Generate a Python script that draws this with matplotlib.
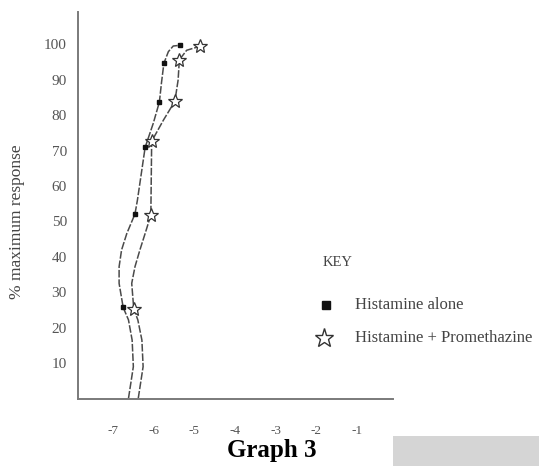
import matplotlib
matplotlib.use('Agg')
import matplotlib.pyplot as plt
import matplotlib.patches as patches

# values (log concentration vs % maximum response)
alone_x = [-6.75, -6.46, -6.21, -5.86, -5.75, -5.35]
alone_y = [25.7, 52.1, 70.9, 83.7, 94.6, 99.7]
prom_x = [-6.49, -6.07, -6.05, -5.48, -5.37, -4.87]
prom_y = [25.3, 51.8, 72.6, 83.9, 95.6, 99.4]

# hand drawn curves
alone_line_x = [-6.62, -6.50, -6.53, -6.62, -6.75, -6.85, -6.85, -6.79, -6.66, -6.46,
                -6.40, -6.21, -6.01, -5.86, -5.81, -5.75, -5.64, -5.52, -5.35]
alone_line_y = [0, 9.0, 16.5, 22.2, 25.7, 32.5, 37.2, 41.9, 46.6, 52.1,
                56.0, 70.9, 77.7, 83.7, 89.0, 94.6, 97.9, 99.5, 99.7]
prom_line_x = [-6.38, -6.26, -6.29, -6.39, -6.49, -6.54, -6.46, -6.34, -6.21, -6.07,
               -6.05, -5.76, -5.48, -5.40, -5.37, -5.19, -4.87]
prom_line_y = [0, 9.0, 16.5, 22.2, 25.3, 32.5, 37.2, 41.9, 46.6, 51.8,
               72.6, 78.6, 83.9, 89.9, 95.6, 98.3, 99.4]

x_ticks = [-7, -6, -5, -4, -3, -2, -1]
y_ticks = [10, 20, 30, 40, 50, 60, 70, 80, 90, 100]

plt.rcParams['font.family'] = ['Liberation Serif', 'DejaVu Serif']
plt.rcParams['axes.unicode_minus'] = False

W, H = 539, 466
fig = plt.figure(figsize=(W / 100, H / 100), dpi=100)
ax = fig.add_axes([78 / W, 1 - 398.5 / H, 315 / W, 386.5 / H])

line_color = '#4a4a4a'
ax.plot(alone_line_x, alone_line_y, color=line_color, lw=1.1, ls=(0, (5, 1.2)))
ax.plot(prom_line_x, prom_line_y, color=line_color, lw=1.1, ls=(0, (5, 1.2)))
ax.plot(alone_x, alone_y, ls='none', marker='s', ms=3.2, color='#111111')
ax.plot(prom_x, prom_y, ls='none', marker='*', ms=10, mfc='white',
        mec='#333333', mew=0.9)

ax.set_xlim(-7.86, -0.12)
ax.set_ylim(0, 109.1)
for side in ['top', 'right']:
    ax.spines[side].set_visible(False)
for side in ['left', 'bottom']:
    ax.spines[side].set_color('#7a7a7a')
    ax.spines[side].set_linewidth(1.4)

ax.set_xticks(x_ticks)
ax.set_xticklabels([str(v) for v in x_ticks])
ax.set_yticks(y_ticks)
ax.tick_params(axis='x', length=0, pad=19, labelsize=9.5, labelcolor='#555555')
ax.tick_params(axis='y', length=0, pad=8, labelsize=11, labelcolor='#555555')

ax.set_ylabel('% maximum response', fontsize=12.5, color='#444444')
ax.yaxis.set_label_coords(-0.168, 0.457)

# key
fig.text(323 / W, 1 - 262 / H, 'KEY', fontsize=10.5, color='#444444', va='center')
fig.lines.append(plt.Line2D([326 / W], [1 - 305 / H], marker='s', ms=6,
                            color='#111111', ls='none', transform=fig.transFigure))
fig.text(355 / W, 1 - 305 / H, 'Histamine alone', fontsize=12, color='#444444', va='center')
fig.lines.append(plt.Line2D([324 / W], [1 - 338 / H], marker='*', ms=14, mfc='white',
                            mec='#333333', mew=1.0, ls='none', transform=fig.transFigure))
fig.text(355 / W, 1 - 338 / H, 'Histamine + Promethazine', fontsize=12,
         color='#444444', va='center')

fig.text(272 / W, 1 - 450 / H, 'Graph 3', fontsize=18, fontweight='bold',
         ha='center', va='center', color='black')

fig.patches.append(patches.Rectangle((393 / W, 0), (W - 393) / W, 30 / H,
                                     transform=fig.transFigure, color='#d5d5d5', lw=0))

fig.savefig('out.png', dpi=100)
